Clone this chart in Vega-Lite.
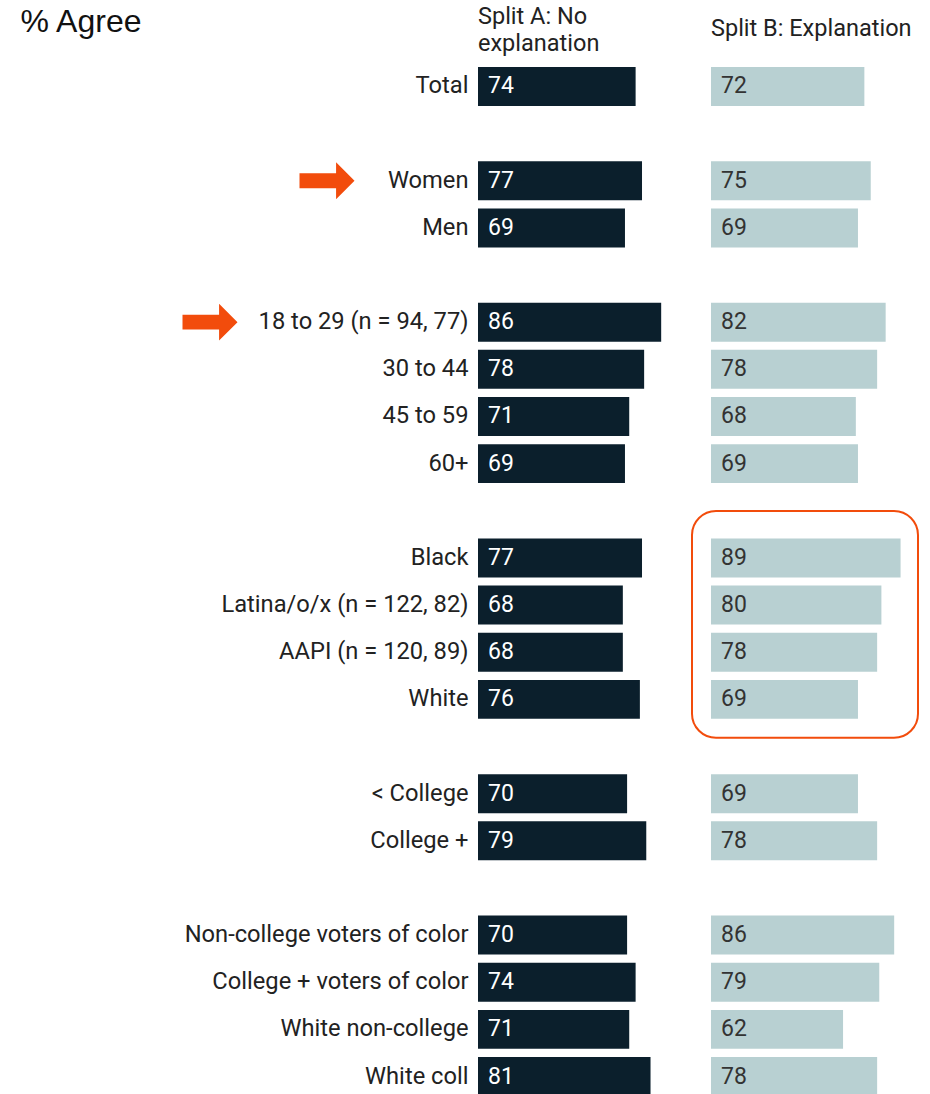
{
  "$schema": "https://vega.github.io/schema/vega-lite/v6.json",
  "background": "white",
  "padding": {"left": 20, "top": 4, "right": 0, "bottom": 0},
  "config": {"view": {"stroke": null}, "font": "Roboto"},
  "datasets": {
    "rows": [
      {"group": "Total", "split_a": 74, "split_b": 72},
      {"group": "Women", "split_a": 77, "split_b": 75},
      {"group": "Men", "split_a": 69, "split_b": 69},
      {"group": "18 to 29 (n = 94, 77)", "split_a": 86, "split_b": 82},
      {"group": "30 to 44", "split_a": 78, "split_b": 78},
      {"group": "45 to 59", "split_a": 71, "split_b": 68},
      {"group": "60+", "split_a": 69, "split_b": 69},
      {"group": "Black", "split_a": 77, "split_b": 89},
      {"group": "Latina/o/x (n = 122, 82)", "split_a": 68, "split_b": 80},
      {"group": "AAPI (n = 120, 89)", "split_a": 68, "split_b": 78},
      {"group": "White", "split_a": 76, "split_b": 69},
      {"group": "< College", "split_a": 70, "split_b": 69},
      {"group": "College +", "split_a": 79, "split_b": 78},
      {"group": "Non-college voters of color", "split_a": 70, "split_b": 86},
      {"group": "College + voters of color", "split_a": 74, "split_b": 79},
      {"group": "White non-college", "split_a": 71, "split_b": 62},
      {"group": "White coll", "split_a": 81, "split_b": 78}
    ]
  },
  "spacing": 20,
  "bounds": "flush",
  "hconcat": [
    {
      "width": 213,
      "height": 1029,
      "data": {"name": "rows"},
      "title": {"text": ["Split A: No", "explanation"], "anchor": "start", "frame": "group", "font": "Roboto", "fontSize": 23.5, "fontWeight": "normal", "color": "#222222", "lineHeight": 27, "offset": -50},
      "encoding": {
        "y": {
          "field": "group", "type": "nominal",
          "scale": {
            "domain": ["Total", " ", "Women", "Men", "  ", "18 to 29 (n = 94, 77)", "30 to 44", "45 to 59", "60+", "   ", "Black", "Latina/o/x (n = 122, 82)", "AAPI (n = 120, 89)", "White", "    ", "< College", "College +", "     ", "Non-college voters of color", "College + voters of color", "White non-college", "White coll"],
            "paddingInner": 0.174, "paddingOuter": 0
          },
          "axis": {
            "title": "% Agree", "titleAngle": 0, "titleAlign": "left", "titleBaseline": "alphabetic",
            "titleX": -458, "titleY": -36, "titleFont": "Liberation Sans", "titleFontSize": 32,
            "titleFontWeight": "normal", "titleColor": "#111111",
            "labelFont": "Roboto", "labelFontSize": 23.7, "labelColor": "#222222", "labelPadding": 10,
            "labelLimit": 400, "ticks": false, "domain": false, "grid": false
          }
        }
      },
      "layer": [
        {
          "mark": {"type": "bar", "color": "#0b1f2c"},
          "encoding": {"x": {"field": "split_a", "type": "quantitative", "scale": {"domain": [0, 100]}, "axis": null}}
        },
        {
          "mark": {"type": "text", "align": "left", "baseline": "middle", "dx": 10, "color": "white", "font": "Roboto", "fontSize": 23},
          "encoding": {"x": {"datum": 0, "type": "quantitative"}, "text": {"field": "split_a", "type": "quantitative"}}
        },
        {
          "transform": [{"filter": "datum.group === 'Women'"}],
          "mark": {"type": "point", "shape": "M-1,-0.27L0.33,-0.27L0.33,-0.67L1,0L0.33,0.67L0.33,0.27L-1,0.27Z", "size": 3025, "filled": true, "color": "#f24c0c", "opacity": 1, "xOffset": -151},
          "encoding": {"x": {"datum": 0, "type": "quantitative"}}
        },
        {
          "transform": [{"filter": "datum.group === '18 to 29 (n = 94, 77)'"}],
          "mark": {"type": "point", "shape": "M-1,-0.27L0.33,-0.27L0.33,-0.67L1,0L0.33,0.67L0.33,0.27L-1,0.27Z", "size": 3025, "filled": true, "color": "#f24c0c", "opacity": 1, "xOffset": -268},
          "encoding": {"x": {"datum": 0, "type": "quantitative"}}
        }
      ]
    },
    {
      "width": 213,
      "height": 1029,
      "data": {"name": "rows"},
      "title": {"text": "Split B: Explanation", "anchor": "start", "frame": "group", "font": "Roboto", "fontSize": 23.5, "fontWeight": "normal", "color": "#222222", "offset": 26.5},
      "encoding": {
        "y": {
          "field": "group", "type": "nominal",
          "scale": {
            "domain": ["Total", " ", "Women", "Men", "  ", "18 to 29 (n = 94, 77)", "30 to 44", "45 to 59", "60+", "   ", "Black", "Latina/o/x (n = 122, 82)", "AAPI (n = 120, 89)", "White", "    ", "< College", "College +", "     ", "Non-college voters of color", "College + voters of color", "White non-college", "White coll"],
            "paddingInner": 0.174, "paddingOuter": 0
          },
          "axis": null
        }
      },
      "layer": [
        {
          "mark": {"type": "bar", "color": "#b8d0d2"},
          "encoding": {"x": {"field": "split_b", "type": "quantitative", "scale": {"domain": [0, 100]}, "axis": null}}
        },
        {
          "mark": {"type": "text", "align": "left", "baseline": "middle", "dx": 10, "color": "#333333", "font": "Roboto", "fontSize": 23},
          "encoding": {"x": {"datum": 0, "type": "quantitative"}, "text": {"field": "split_b", "type": "quantitative"}}
        },
        {
          "transform": [{"filter": "datum.group === 'Black'"}],
          "mark": {"type": "rect", "filled": false, "stroke": "#f24c0c", "strokeWidth": 2, "cornerRadius": 24, "xOffset": -19, "x2Offset": -6, "yOffset": -27.5, "y2Offset": 19},
          "encoding": {
            "x": {"datum": 0, "type": "quantitative"},
            "x2": {"datum": 100},
            "y": {"datum": "Black", "type": "nominal", "bandPosition": 0},
            "y2": {"datum": "White", "bandPosition": 1}
          }
        }
      ]
    }
  ]
}
